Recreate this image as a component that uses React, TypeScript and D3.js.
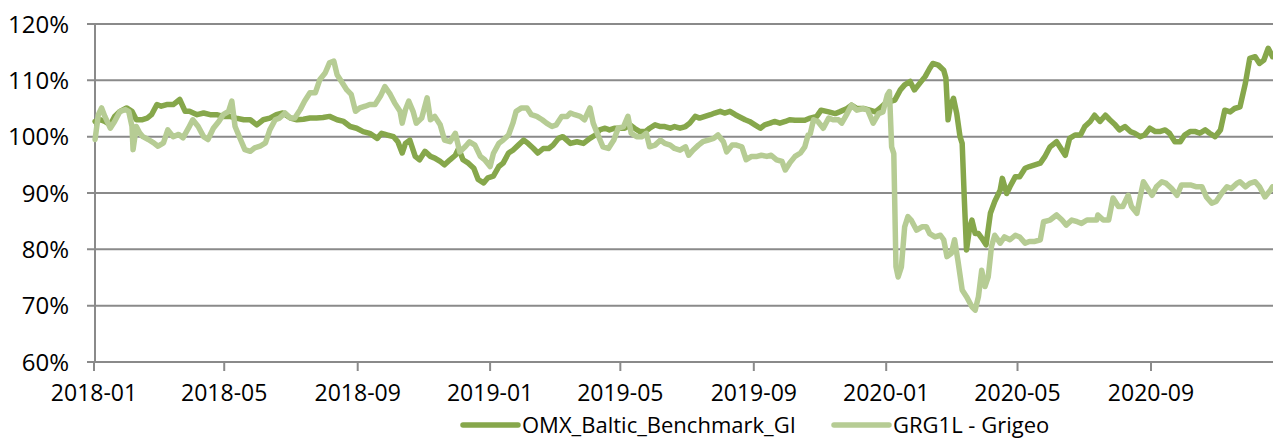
import React, { useEffect, useRef } from 'react';
import * as d3 from 'd3';

// x positions are days counted from 2018-01-01, values in %
const startDate = new Date(2018, 0, 1);

const omxDays = [
  1, 6, 10, 15, 19, 24, 30, 35, 39, 44, 49, 53, 58, 62, 67, 73, 79, 84, 88, 95, 101, 107, 113, 119, 125, 131, 138, 144, 150, 156, 162, 168, 174, 181, 187, 193, 199, 205, 211,
  217, 224, 230, 236, 242, 248, 254, 261, 265, 270, 276, 280, 284, 287, 291, 296, 300, 305, 310, 314, 319, 323, 328, 333, 336, 340, 345, 350, 354, 359, 363, 368, 373, 377, 382, 386, 391, 396, 400, 405, 409, 414, 419, 423, 428, 432,
  439, 445, 451, 457, 462, 466, 471, 475, 480, 485, 489, 494, 498, 503, 508, 512, 517, 522, 526, 531, 535, 540, 545, 549, 554, 558, 563, 568, 572, 577, 581, 586, 591, 595, 600, 604, 609, 614, 618, 623, 627, 632, 637, 641, 646, 651, 655,
  660, 666, 670, 677, 683, 687, 694, 698, 703, 709, 715, 720, 724, 729, 733, 738, 743, 747, 752, 756, 761, 766, 770, 773, 778, 783, 785, 787, 789, 792, 795, 798, 800, 802, 804, 807, 809, 812, 815, 818, 822, 826, 830, 835, 837, 841, 844, 849, 853, 858, 862, 867, 872, 876, 881,
  887, 895, 899, 904, 909, 913, 918, 922, 927, 932, 936, 941, 945, 950, 955, 959, 964, 968, 973, 978, 982, 987, 991, 996, 1001, 1005, 1010, 1015, 1019, 1024, 1028, 1033, 1038, 1042, 1047, 1051, 1056, 1061, 1065, 1070, 1074, 1078, 1082, 1086
];
const omxValues = [
  102.7, 103, 102.7, 102.1, 103.6, 104.5, 105.1, 104.5, 103, 103, 103.3, 103.9, 105.7, 105.4, 105.7, 105.7, 106.6, 104.5, 104.5, 103.9, 104.2, 103.9, 103.9, 103.6, 103.6, 103.3, 103, 103, 102.1, 103, 103.3, 103.9, 104.2, 103.3, 103, 103.1, 103.3, 103.3, 103.4,
  103.6, 103, 102.7, 101.8, 101.5, 100.9, 100.6, 99.7, 100.6, 100.3, 100, 99.1, 97.1, 98.8, 99.4, 96.5, 95.9, 97.4, 96.5, 96.2, 95.6, 95, 95.9, 96.7, 97.9, 95.9, 95.3, 94.4, 92.4, 91.8, 92.7, 93, 94.7, 95.3, 97.1, 97.6, 98.5, 99.4, 98.8, 97.9, 97.1, 97.9, 97.9, 98.5, 99.7, 100,
  98.8, 99.1, 98.8, 99.7, 100.3, 101.2, 101.5, 101.2, 101.5, 101.5, 101.5, 102.1, 101.5, 100.9, 100.9, 101.5, 102.1, 101.8, 101.8, 101.5, 101.8, 101.5, 101.8, 102.4, 103.6, 103.3, 103.6, 103.9, 104.2, 104.5, 104.2, 104.5, 103.9, 103.5, 103, 102.7, 102.1, 101.5, 102.1, 102.4, 102.7, 102.4, 102.7, 103, 102.9, 102.9, 102.9,
  103.3, 103.6, 104.7, 104.4, 104.1, 104.4, 105, 105.6, 105, 105, 104.7, 104.4, 105, 105.9, 106.2, 106.5, 108.3, 109.2, 109.8, 108.3, 109.5, 110.7, 112.1, 113, 112.7, 111.8, 110.4, 103, 105.3, 106.8, 104.1, 100, 98.8, 88.8, 79.9, 84, 85.2, 82.8, 82.8, 82, 80.8, 86.4, 88.5, 90.5, 92.6, 89.9, 91.1, 92.9, 92.9, 94.4, 94.7, 95, 95.3, 96.4, 98.2,
  99.1, 96.7, 99.7, 100.3, 100.3, 101.8, 102.7, 103.8, 102.7, 103.8, 103, 102.1, 101.2, 101.8, 100.9, 100.6, 100, 100.3, 101.5, 100.9, 100.9, 101.2, 100.6, 99.1, 99.1, 100.3, 100.9, 100.9, 100.6, 101.2, 100.6, 100, 101.2, 104.7, 104.4, 105, 105.3, 109.5, 113.9, 114.2, 113, 113.6, 115.7, 114.2
];

const grgDays = [
  1, 4, 7, 10, 15, 19, 24, 29, 32, 35, 36, 39, 42, 45, 50, 55, 59, 64, 68, 73, 78, 82, 87, 91, 96, 101, 105, 110, 115, 119, 124, 127, 130, 135, 139, 144, 148, 153, 158, 162, 167, 171, 176, 181, 185, 190, 194, 199, 204, 208, 213,
  217, 221, 224, 228, 233, 237, 241, 245, 250, 254, 259, 264, 268, 273, 277, 282, 284, 287, 290, 294, 297, 302, 307, 310, 314, 319, 323, 328, 333, 337, 342, 346, 351, 356, 360, 365, 368, 373, 377, 382, 386, 389, 394, 399, 403, 408, 413, 417, 422, 426, 431, 436,
  439, 443, 448, 452, 457, 460, 465, 469, 474, 479, 483, 488, 492, 495, 500, 505, 509, 512, 517, 522, 526, 531, 535, 540, 545, 548, 552, 557, 561, 566, 571, 575, 580, 583, 588, 592, 597, 601, 606, 611, 615, 620, 624, 629, 634, 637, 641, 646, 651, 655, 658,
  660, 663, 667, 672, 677, 681, 686, 689, 694, 698, 703, 709, 713, 718, 723, 727, 731, 733, 735, 737, 739, 741, 744, 747, 750, 753, 758, 763, 767, 770, 775, 780, 783, 786, 790, 793, 796, 800, 804, 809, 812, 815, 818, 821, 824, 827, 830, 835, 839, 844, 849, 853, 858, 862, 867, 872, 875, 881,
  887, 892, 896, 901, 906, 910, 915, 919, 924, 925, 930, 935, 939, 944, 948, 953, 956, 961, 964, 967, 972, 975, 979, 984, 988, 993, 998, 1002, 1007, 1011, 1016, 1021, 1025, 1030, 1034, 1039, 1044, 1048, 1053, 1056, 1061, 1065, 1070, 1074, 1079, 1084, 1086
];
const grgValues = [
  99.5, 103.9, 105.1, 103.6, 101.5, 102.7, 104.5, 104.8, 104.5, 101.8, 97.7, 101.8, 100.7, 100, 99.5, 98.9, 98.3, 98.9, 101.2, 100, 100.4, 99.8, 101.5, 103, 101.8, 100, 99.5, 101.5, 102.7, 103.9, 104.5, 106.3, 101.8, 99.5, 97.7, 97.4, 98, 98.3, 98.9, 101.2, 103, 103.3, 104.2, 103.3, 103.3, 104.8, 106.3, 107.8, 107.8, 110.1, 111.3,
  113.1, 113.4, 111, 109.8, 108.3, 107.5, 104.5, 105.1, 105.4, 105.7, 105.7, 107.2, 108.9, 107.5, 106, 104.5, 102.4, 104.8, 106.3, 104.5, 102.4, 103.3, 106.9, 103, 103.6, 102.1, 99.4, 99.1, 100.6, 97.3, 98.2, 99.1, 98.5, 96.5, 95.9, 94.7, 97, 98.8, 99.4, 100.3, 102.4, 104.5, 105.1, 105.1, 103.9, 103.6, 103, 102.4, 101.8, 102.1, 103.6, 103.6,
  104.2, 103.9, 103.6, 103, 105.1, 102.4, 100, 98.2, 97.9, 99.4, 101.5, 101.8, 103.6, 100.6, 100, 100, 100.6, 98.2, 98.5, 99.4, 98.8, 98.5, 97.9, 97.6, 98.2, 96.7, 97.6, 98.5, 99.1, 99.4, 99.7, 100.3, 99.1, 97.3, 98.5, 98.5, 98.2, 95.9, 96.5, 96.5, 96.7, 96.5, 96.7, 95.9, 95.6, 94.1, 95.3, 96.5, 97.1, 98.2, 100.3,
  100.5, 103, 102.7, 101.5, 103.3, 103, 103, 102.4, 104.1, 105.6, 104.7, 105, 104.7, 102.4, 104.1, 104.4, 107.4, 108, 98.2, 97, 76.9, 75.1, 76.9, 84, 85.8, 85.2, 83.4, 84, 84, 82.8, 82.2, 82.5, 81.7, 78.7, 79.3, 81.7, 78.1, 72.8, 71.6, 69.8, 69.2, 71.6, 76.3, 73.4, 75.1, 80.5, 82.5, 81.1, 82.2, 81.7, 82.5, 82.2, 81.1, 81.4, 81.4, 81.7, 84.9, 85.2,
  86.1, 85.2, 84.3, 85.2, 84.9, 84.6, 85.2, 85.2, 85.2, 86.1, 85.2, 85.2, 89.1, 87.6, 87.6, 89.6, 87.6, 86.4, 89.3, 92, 90.5, 89.6, 91.1, 92, 91.7, 90.8, 89.6, 91.4, 91.4, 91.4, 91.1, 91.1, 89.3, 88.2, 88.5, 89.9, 91.1, 90.8, 91.7, 92, 91.1, 91.7, 92, 91.1, 89.3, 90.5, 91.1
];

const yTicks = [60, 70, 80, 90, 100, 110, 120];
const xTicks = ['2018-01', '2018-05', '2018-09', '2019-01', '2019-05', '2019-09', '2020-01', '2020-05', '2020-09'];

const seriesNames = ['OMX_Baltic_Benchmark_GI', 'GRG1L - Grigeo'];
const seriesColors = ['#86a74b', '#b6cc94'];

const W = 1273;
const H = 439;
const FONT = '"Open Sans", sans-serif';
const FONT_SIZE = '22px';

const App = () => {
  const svgRef = useRef(null);

  useEffect(() => {
    const svg = d3.select(svgRef.current);
    svg.selectAll('*').remove();

    const parseMonth = d3.timeParse('%Y-%m');
    const x = d3.scaleTime()
      .domain([parseMonth('2018-01'), parseMonth('2020-09')])
      .range([94, 1151]);
    const y = d3.scaleLinear().domain([60, 120]).range([362, 24]);

    // horizontal grid
    svg.append('g')
      .selectAll('line')
      .data(yTicks)
      .enter()
      .append('line')
      .attr('x1', 87)
      .attr('x2', W)
      .attr('y1', d => y(d))
      .attr('y2', d => y(d))
      .attr('stroke', '#8a8a8a')
      .attr('stroke-width', 2);

    // y axis line
    svg.append('line')
      .attr('x1', 95).attr('x2', 95)
      .attr('y1', y(120)).attr('y2', y(60))
      .attr('stroke', '#8a8a8a')
      .attr('stroke-width', 2);

    svg.append('g')
      .selectAll('text')
      .data(yTicks)
      .enter()
      .append('text')
      .attr('x', 69)
      .attr('y', d => y(d) + 8.5)
      .attr('text-anchor', 'end')
      .style('font-family', FONT)
      .style('font-size', '24px')
      .attr('fill', '#000')
      .text(d => `${d}%`);

    // x ticks
    const xg = svg.append('g');
    xg.selectAll('line')
      .data(xTicks)
      .enter()
      .append('line')
      .attr('x1', d => x(parseMonth(d)))
      .attr('x2', d => x(parseMonth(d)))
      .attr('y1', y(60))
      .attr('y2', y(60) + 9)
      .attr('stroke', '#8a8a8a')
      .attr('stroke-width', 2);
    xg.selectAll('text')
      .data(xTicks)
      .enter()
      .append('text')
      .attr('x', d => x(parseMonth(d)))
      .attr('y', 401)
      .attr('text-anchor', 'middle')
      .style('font-family', FONT)
      .style('font-size', '23px')
      .attr('fill', '#000')
      .text(d => d);

    const line = d3.line()
      .x(d => x(d3.timeDay.offset(startDate, d[0])))
      .y(d => y(d[1]))
      .curve(d3.curveLinear);

    const series = [
      d3.zip(omxDays, omxValues),
      d3.zip(grgDays, grgValues)
    ];

    series.forEach((pts, i) => {
      svg.append('path')
        .datum(pts)
        .attr('d', line)
        .attr('fill', 'none')
        .attr('stroke', seriesColors[i])
        .attr('stroke-width', 5.5)
        .attr('stroke-linejoin', 'round')
        .attr('stroke-linecap', 'round');
    });

    // legend
    const legendX = [463, 834];
    const lg = svg.append('g')
      .selectAll('g')
      .data(seriesNames)
      .enter()
      .append('g')
      .attr('transform', (d, i) => `translate(${legendX[i]}, 425)`);
    lg.append('line')
      .attr('x1', 0).attr('x2', 55)
      .attr('stroke', (d, i) => seriesColors[i])
      .attr('stroke-width', 5.5)
      .attr('stroke-linecap', 'round');
    lg.append('text')
      .attr('x', 59)
      .attr('y', 7.5)
      .style('font-family', FONT)
      .style('font-size', FONT_SIZE)
      .attr('fill', '#000')
      .text(d => d);
  }, []);

  return (
    <div style={{ position: 'fixed', left: 0, top: 0, background: '#fff' }}>
      <svg ref={svgRef} width={W} height={H} style={{ display: 'block' }}></svg>
    </div>
  );
};

export default App;
